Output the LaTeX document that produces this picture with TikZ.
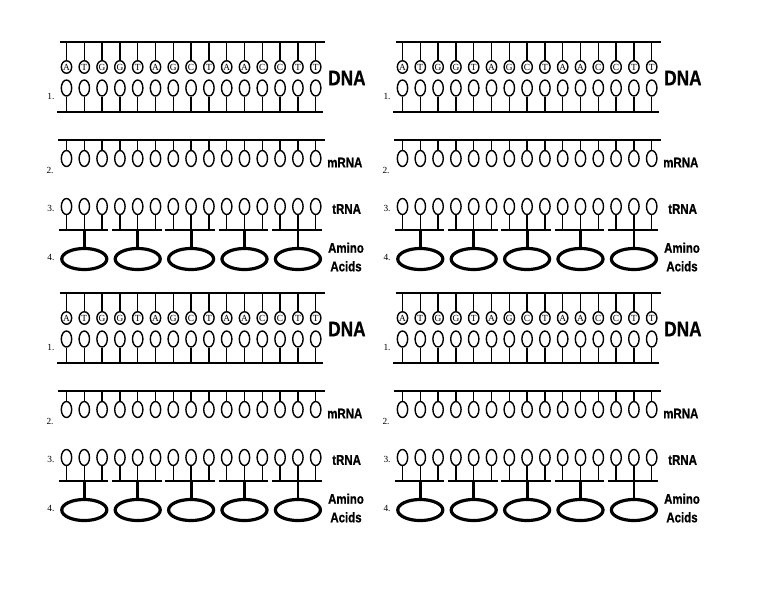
\documentclass[tikz,border=0pt]{standalone}
\usepackage{fontspec}
\setmainfont{Liberation Serif}
\newfontfamily\lblfont[FakeStretch=0.82,FakeBold=0.8]{Liberation Sans}
\usetikzlibrary{shapes.geometric}

\begin{document}
\begin{tikzpicture}[x=0.75pt,y=-0.75pt,
backbone/.style={line width=2.1pt},
stick/.style={line width=1pt},
base/.style={draw,ellipse,line width=1.05pt,inner sep=0pt,minimum width=7.8pt,minimum height=12pt},
letter/.style={base,minimum height=9.4pt,font=\fontsize{7pt}{7pt}\selectfont},
bar/.style={line width=1.6pt},
aastick/.style={line width=2.1pt},
amino/.style={draw,ellipse,line width=2.4pt,inner sep=0pt,minimum width=33.8pt,minimum height=15.8pt},
num/.style={font=\fontsize{7pt}{7pt}\selectfont,inner sep=0pt},
lbl/.style={font=\lblfont\bfseries\fontsize{10.5pt}{13.9pt}\selectfont,inner sep=0pt,align=center},
biglbl/.style={font=\lblfont\bfseries\fontsize{15.75pt}{15.75pt}\selectfont,inner sep=0pt}]
\useasboundingbox[fill=white] (0,0) rectangle (768,594);
\foreach \p/\ox/\oy in {a/0/0,b/336/0,c/0/251,d/336/251}{
\begin{scope}[shift={(\ox,\oy)}]
% DNA
\coordinate (\p-dnaT) at (60,42);
\coordinate (\p-dnaTe) at (325,42);
\coordinate (\p-dnaB) at (57,112);
\coordinate (\p-dnaBe) at (323,112);
\draw[backbone] (\p-dnaT) -- (\p-dnaTe);
\draw[backbone] (\p-dnaB) -- (\p-dnaBe);
\foreach \l [count=\i] in {A,T,G,G,T,A,G,C,T,A,A,C,C,T,T}{
\pgfmathsetmacro{\xx}{66.5+17.8*(\i-1)}
\node[letter] (\p-let\i) at (\xx,67) {\l};
\node[base] (\p-pair\i) at (\xx,88) {};
\draw[stick] (\p-let\i.north) -- (\p-let\i.north |- \p-dnaT);
\draw[stick] (\p-pair\i.south) -- (\p-pair\i.south |- \p-dnaB);
}
% mRNA
\coordinate (\p-mrna) at (58,140);
\coordinate (\p-mrnae) at (325,140);
\draw[backbone] (\p-mrna) -- (\p-mrnae);
\coordinate (\p-bar) at (0,230);
\foreach \i in {1,...,15}{
\pgfmathsetmacro{\xx}{66.5+17.8*(\i-1)}
\node[base] (\p-m\i) at (\xx,158.5) {};
\draw[stick] (\p-m\i.north) -- (\p-m\i.north |- \p-mrna);
% tRNA
\node[base] (\p-t\i) at (\xx,206.5) {};
\draw[stick] (\p-t\i.south) -- (\p-t\i.south |- \p-bar);
}
\foreach \g in {0,...,4}{
\pgfmathsetmacro{\xl}{66.5+17.8*3*\g-8}
\pgfmathsetmacro{\xr}{66.5+17.8*(3*\g+2)+6}
\pgfmathsetmacro{\xm}{66.5+17.8*(3*\g+1)}
\coordinate (\p-barl\g) at (\xl,230);
\coordinate (\p-barr\g) at (\xr,230);
\draw[bar] (\p-barl\g) -- (\p-barr\g);
\node[amino] (\p-aa\g) at (\xm,259) {};
\draw[aastick] (\p-aa\g.north |- \p-bar) -- (\p-aa\g.north);
}
% labels
\node[num] (\p-n1) at (51,96) {1.};
\node[num] (\p-n2) at (50,170.5) {2.};
\node[num] (\p-n3) at (51,208) {3.};
\node[num] (\p-n4) at (51,257) {4.};
\node[biglbl,anchor=west] (\p-dna) at (328,78) {DNA};
\node[lbl,anchor=west] (\p-mrnalbl) at (327,162.5) {mRNA};
\node[lbl,anchor=west] (\p-trnalbl) at (332,209) {tRNA};
\node[lbl] (\p-aalbl) at (346,257) {Amino\\Acids};
\end{scope}
}
\end{tikzpicture}
\end{document}
